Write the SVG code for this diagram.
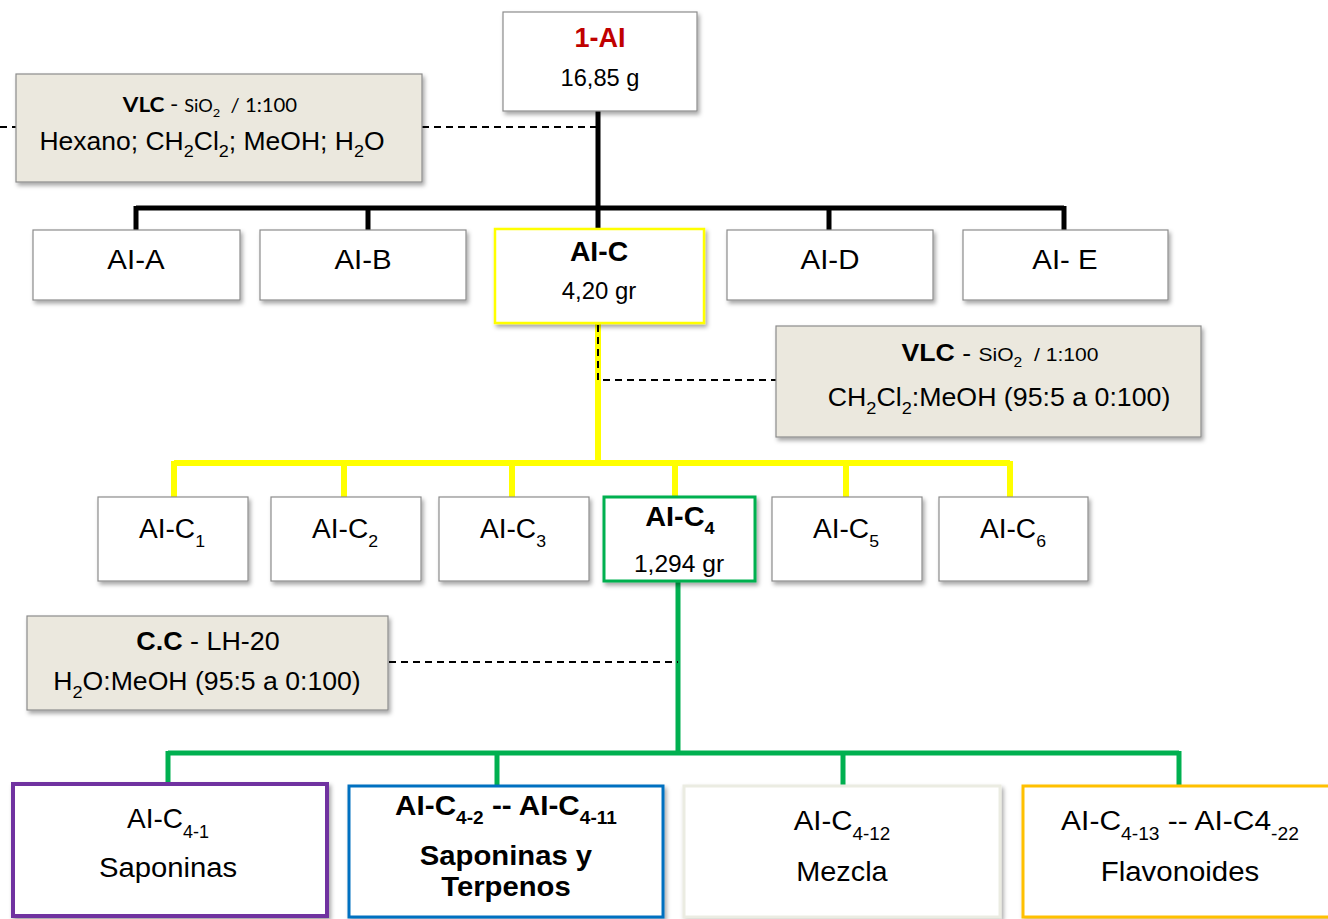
<svg xmlns="http://www.w3.org/2000/svg" width="1328" height="919" viewBox="0 0 1328 919">
<defs>
<filter id="sh" x="-10%" y="-10%" width="125%" height="130%">
<feDropShadow dx="2" dy="3" stdDeviation="2" flood-color="#000" flood-opacity="0.35"/>
</filter>
<style>
.box{fill:#fff;stroke:#8c8c8c;stroke-width:1.2;filter:url(#sh)}
.note{fill:#ebe8de;stroke:#8c8c8c;stroke-width:1.2;filter:url(#sh)}
.t{font-family:"Liberation Sans",Arial,sans-serif;fill:#000;text-anchor:middle}
.c{font-family:Lato,"Open Sans",sans-serif;fill:#000;text-anchor:middle}
.dash{fill:none;stroke:#000;stroke-width:2;stroke-dasharray:7,5}
.k{fill:none;stroke:#000;stroke-width:5}
.y{fill:none;stroke:#ffff00;stroke-width:6}
.g{fill:none;stroke:#00b050;stroke-width:5}
</style>
</defs>
<g id="connectors">
<path class="k" d="M598,111 V208 M136,208 H1064 M136,206 V230 M368,206 V230 M598,206 V230 M829,206 V230 M1064,206 V230"/>
<path class="y" d="M598,323 V463 M174,463 H1010 M174,461 V497 M344,461 V497 M512,461 V497 M675,461 V497 M846,461 V497 M1010,461 V497"/>
<path class="g" d="M678,581 V753 M168,753 H1179 M168,751 V785 M497,751 V785 M843,751 V785 M1179,751 V785"/>
<path class="dash" d="M0,127 H16 M422,127 H598"/>
<path class="dash" d="M598,325 V380 H776"/>
<path class="dash" d="M389,662 H678"/>
</g>
<g id="n-1AI">
<rect class="box" x="503" y="12" width="194" height="99"/>
<text class="t" x="600" y="47" font-size="27" font-weight="bold" style="fill:#c00000">1-AI</text>
<text class="t" x="600" y="86" font-size="23" transform="matrix(1.03 0 0 1 -18 0)">16,85 g</text>
</g>
<g id="note-vlc1">
<rect class="note" x="16" y="74" width="406" height="108"/>
<text class="c" x="210" y="112" font-size="21" transform="matrix(1.07 0 0 1 -14.7 0)"><tspan font-weight="bold">VLC</tspan> - <tspan font-size="17">SiO</tspan><tspan font-size="12" dy="5">2</tspan><tspan dy="-5" font-size="19">&#160; / 1:100</tspan></text>
<text class="t" x="212" y="150" font-size="25" transform="matrix(1.06 0 0 1 -12.7 0)">Hexano; CH<tspan font-size="17" dy="7">2</tspan><tspan dy="-7">Cl</tspan><tspan font-size="17" dy="7">2</tspan><tspan dy="-7">; MeOH; H</tspan><tspan font-size="17" dy="7">2</tspan><tspan dy="-7">O</tspan></text>
</g>
<g id="n-AIA">
<rect class="box" x="33" y="230" width="207" height="70"/>
<text class="t" x="136" y="269" font-size="27" transform="matrix(1.09 0 0 1 -12.24 0)">AI-A</text>
</g>
<g id="n-AIB">
<rect class="box" x="260" y="230" width="206" height="70"/>
<text class="t" x="363" y="269" font-size="27" transform="matrix(1.09 0 0 1 -32.67 0)">AI-B</text>
</g>
<g id="n-AIC">
<rect class="box" x="495" y="229" width="209" height="94" style="stroke:#ffff00;stroke-width:2.5"/>
<text class="t" x="599" y="261" font-size="27" font-weight="bold" transform="matrix(1.05 0 0 1 -29.95 0)">AI-C</text>
<text class="t" x="599" y="299" font-size="23" transform="matrix(1.04 0 0 1 -23.96 0)">4,20 gr</text>
</g>
<g id="n-AID">
<rect class="box" x="727" y="230" width="206" height="70"/>
<text class="t" x="830" y="269" font-size="27" transform="matrix(1.09 0 0 1 -74.7 0)">AI-D</text>
</g>
<g id="n-AIE">
<rect class="box" x="963" y="230" width="205" height="70"/>
<text class="t" x="1065" y="269" font-size="27" transform="matrix(1.09 0 0 1 -95.85 0)">AI- E</text>
</g>
<g id="note-vlc2">
<rect class="note" x="776" y="326" width="425" height="111"/>
<text class="t" x="1000" y="361" font-size="24" transform="matrix(1.11 0 0 1 -110 0)"><tspan font-weight="bold">VLC</tspan> - <tspan font-size="19">SiO</tspan><tspan font-size="14" dy="6">2</tspan><tspan dy="-6" font-size="19">&#160; / 1:100</tspan></text>
<text class="t" x="999" y="406" font-size="25" transform="matrix(1.07 0 0 1 -69.93 0)">CH<tspan font-size="17" dy="8">2</tspan><tspan dy="-8">Cl</tspan><tspan font-size="17" dy="8">2</tspan><tspan dy="-8">:MeOH (95:5 a 0:100)</tspan></text>
</g>
<g id="n-AIC1">
<rect class="box" x="98" y="497" width="150" height="84"/>
<text class="t" x="172" y="538" font-size="27" transform="matrix(1.04 0 0 1 -6.88 0)">AI-C<tspan font-size="17" dy="9">1</tspan></text>
</g>
<g id="n-AIC2">
<rect class="box" x="271" y="497" width="150" height="84"/>
<text class="t" x="345" y="538" font-size="27" transform="matrix(1.04 0 0 1 -13.8 0)">AI-C<tspan font-size="17" dy="9">2</tspan></text>
</g>
<g id="n-AIC3">
<rect class="box" x="439" y="497" width="150" height="84"/>
<text class="t" x="513" y="538" font-size="27" transform="matrix(1.04 0 0 1 -20.52 0)">AI-C<tspan font-size="17" dy="9">3</tspan></text>
</g>
<g id="n-AIC4">
<rect class="box" x="604" y="497" width="151" height="84" style="stroke:#00b050;stroke-width:3"/>
<text class="t" x="680" y="526" font-size="27" font-weight="bold" transform="matrix(1.07 0 0 1 -47.6 0)">AI-C<tspan font-size="17" dy="8">4</tspan></text>
<text class="t" x="679" y="572" font-size="23" transform="matrix(1.07 0 0 1 -47.53 0)">1,294 gr</text>
</g>
<g id="n-AIC5">
<rect class="box" x="772" y="497" width="150" height="84"/>
<text class="t" x="846" y="538" font-size="27" transform="matrix(1.04 0 0 1 -33.84 0)">AI-C<tspan font-size="17" dy="9">5</tspan></text>
</g>
<g id="n-AIC6">
<rect class="box" x="939" y="497" width="149" height="84"/>
<text class="t" x="1013" y="538" font-size="27" transform="matrix(1.04 0 0 1 -40.52 0)">AI-C<tspan font-size="17" dy="9">6</tspan></text>
</g>
<g id="note-cc">
<rect class="note" x="27" y="616" width="361" height="94"/>
<text class="t" x="208" y="650" font-size="25" transform="matrix(1.075 0 0 1 -15.6 0)"><tspan font-weight="bold">C.C</tspan> - LH-20</text>
<text class="t" x="207" y="690" font-size="25" transform="matrix(1.065 0 0 1 -13.455 0)">H<tspan font-size="17" dy="8">2</tspan><tspan dy="-8">O:MeOH (95:5 a 0:100)</tspan></text>
</g>
<g id="n-AIC41">
<rect class="box" x="13" y="784" width="314" height="132" style="stroke:#7030a0;stroke-width:4"/>
<text class="t" x="168" y="828" font-size="28">AI-C<tspan font-size="18" dy="10">4-1</tspan></text>
<text class="t" x="168" y="877" font-size="28" transform="matrix(1.045 0 0 1 -7.56 0)">Saponinas</text>
</g>
<g id="n-AIC42">
<rect class="box" x="349" y="786" width="314" height="131" style="stroke:#0070c0;stroke-width:3"/>
<text class="t" x="506" y="815" font-size="28" font-weight="bold" transform="matrix(1.06 0 0 1 -30.36 0)">AI-C<tspan font-size="18" dy="9">4-2</tspan><tspan dy="-9"> -- AI-C</tspan><tspan font-size="18" dy="9">4-11</tspan></text>
<text class="t" x="506" y="865" font-size="28" font-weight="bold" transform="matrix(1.045 0 0 1 -22.77 0)">Saponinas y</text>
<text class="t" x="506" y="896" font-size="28" font-weight="bold" transform="matrix(1.045 0 0 1 -22.77 0)">Terpenos</text>
</g>
<g id="n-AIC412">
<rect class="box" x="684" y="786" width="316" height="131" style="stroke:#ebece2;stroke-width:3"/>
<text class="t" x="842" y="830" font-size="28" transform="matrix(1.05 0 0 1 -42.1 0)">AI-C<tspan font-size="18" dy="10">4-12</tspan></text>
<text class="t" x="842" y="881" font-size="28" transform="matrix(1.03 0 0 1 -25.26 0)">Mezcla</text>
</g>
<g id="n-AIC413">
<rect class="box" x="1023" y="786" width="320" height="131" style="stroke:#ffc000;stroke-width:3"/>
<text class="t" x="1180" y="830" font-size="28" transform="matrix(1.07 0 0 1 -82.6 0)">AI-C<tspan font-size="18" dy="10">4-13</tspan><tspan dy="-10"> -- AI-C4</tspan><tspan font-size="18" dy="10">-22</tspan></text>
<text class="t" x="1180" y="881" font-size="28" transform="matrix(1.05 0 0 1 -59 0)">Flavonoides</text>
</g>
</svg>
